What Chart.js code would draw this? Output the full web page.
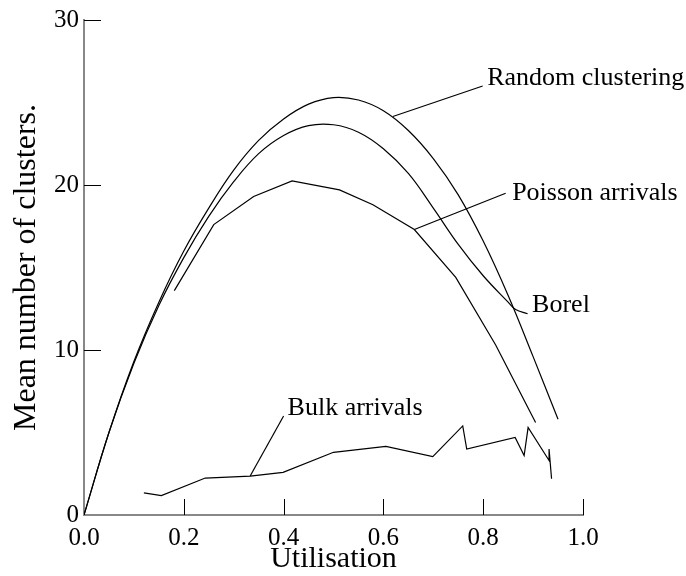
<!DOCTYPE html>
<html>
<head>
<meta charset="utf-8">
<title>Mean number of clusters</title>
<script src="https://cdn.jsdelivr.net/npm/chart.js@4"></script>
<style>
  html, body { margin: 0; padding: 0; background: #fff; }
  canvas { display: block; }
</style>
</head>
<body>
<canvas id="chart" width="686" height="576"></canvas>
<script>
// curves: utilisation (x) against mean number of clusters (y)
const randomX = [0, 0.05, 0.1, 0.15, 0.2, 0.25, 0.3, 0.35, 0.4, 0.45, 0.5, 0.55, 0.6, 0.65, 0.7, 0.75, 0.8, 0.85, 0.9, 0.95];
const randomY = [0, 5.0, 9.3, 12.9, 16.0, 18.6, 20.9, 22.7, 24.0, 24.9, 25.3, 25.15, 24.5, 23.3, 21.6, 19.4, 16.6, 13.3, 9.6, 5.8];

const borelX = [0, 0.05, 0.1, 0.15, 0.2, 0.25, 0.3, 0.35, 0.4, 0.45, 0.5, 0.55, 0.6, 0.65, 0.7, 0.75, 0.8, 0.85, 0.865, 0.889];
const borelY = [0, 5.0, 9.2, 12.7, 15.6, 18.1, 20.2, 21.9, 23.0, 23.6, 23.65, 23.2, 22.2, 20.7, 18.6, 16.4, 14.5, 12.9, 12.45, 12.2];

const poissonX = [0.181, 0.26, 0.34, 0.417, 0.512, 0.579, 0.662, 0.745, 0.825, 0.905];
const poissonY = [13.6, 17.6, 19.3, 20.25, 19.7, 18.8, 17.3, 14.4, 10.3, 5.6];

const bulkX = [0.12, 0.155, 0.243, 0.333, 0.399, 0.5, 0.605, 0.699, 0.759, 0.767, 0.864, 0.882, 0.89, 0.932, 0.932, 0.937];
const bulkY = [1.34, 1.18, 2.24, 2.36, 2.58, 3.8, 4.16, 3.54, 5.4, 4.0, 4.7, 3.6, 5.3, 3.3, 4.0, 2.2];

// pointer lines from each curve to its name: [x0, y0, x1, y1]
const leaders = [
  [0.619, 24.15, 0.799, 26.0],
  [0.662, 17.3, 0.845, 19.5],
  [0.333, 2.36, 0.4, 6.0]
];

const curveNames = ['Random clustering', 'Poisson arrivals', 'Borel', 'Bulk arrivals'];
const nameX = [0.808, 0.858, 0.898, 0.408];
const nameY = [26.5, 19.5, 12.7, 6.46];

const xTicks = [0, 0.2, 0.4, 0.6, 0.8, 1.0];
const yTicks = [0, 10, 20, 30];

const serif = '"Liberation Serif", "Times New Roman", serif';

function pts(xs, ys) {
  return xs.map((x, i) => ({ x: x, y: ys[i] }));
}

function curve(xs, ys, smooth) {
  return {
    data: pts(xs, ys),
    borderColor: '#000',
    borderWidth: 1.2,
    pointRadius: 0,
    fill: false,
    tension: smooth ? 0.4 : 0
  };
}

const datasets = [
  curve(randomX, randomY, true),
  curve(borelX, borelY, true),
  curve(poissonX, poissonY, false),
  curve(bulkX, bulkY, false)
];
leaders.forEach(l => datasets.push(curve([l[0], l[2]], [l[1], l[3]], false)));

// short tick marks pointing into the plot
const innerTicks = {
  id: 'innerTicks',
  afterDraw(chart) {
    const { ctx, scales: { x, y } } = chart;
    ctx.save();
    ctx.strokeStyle = '#000';
    ctx.lineWidth = 1;
    ctx.beginPath();
    xTicks.slice(1).forEach(v => {
      const px = Math.round(x.getPixelForValue(v)) + 0.5;
      ctx.moveTo(px, y.bottom);
      ctx.lineTo(px, y.bottom - 16);
    });
    yTicks.slice(1).forEach(v => {
      const py = Math.round(y.getPixelForValue(v)) + 0.5;
      ctx.moveTo(x.left, py);
      ctx.lineTo(x.left + 17, py);
    });
    ctx.stroke();
    ctx.restore();
  }
};

// curve names next to the pointer lines
const curveLabels = {
  id: 'curveLabels',
  afterDraw(chart) {
    const { ctx, scales: { x, y } } = chart;
    ctx.save();
    ctx.fillStyle = '#000';
    ctx.font = '26px ' + serif;
    ctx.textAlign = 'left';
    ctx.textBaseline = 'middle';
    curveNames.forEach((name, i) => {
      ctx.fillText(name, x.getPixelForValue(nameX[i]), y.getPixelForValue(nameY[i]));
    });
    ctx.restore();
  }
};

new Chart(document.getElementById('chart'), {
  type: 'line',
  data: { datasets: datasets },
  options: {
    responsive: false,
    animation: false,
    events: [],
    layout: { padding: { left: 0, right: 103, top: 15, bottom: 0 } },
    plugins: { legend: { display: false }, tooltip: { enabled: false } },
    scales: {
      x: {
        type: 'linear',
        min: 0,
        max: 1,
        afterBuildTicks: s => { s.ticks = xTicks.map(v => ({ value: v })); },
        afterFit: s => { s.height = 61; },
        grid: { display: false, drawTicks: false },
        border: { display: true, color: '#888', width: 2 },
        ticks: {
          color: '#000',
          font: { family: serif, size: 25 },
          padding: 8,
          maxRotation: 0,
          callback: v => v.toFixed(1)
        },
        title: {
          display: true,
          text: 'Utilisation',
          color: '#000',
          font: { family: serif, size: 30, lineHeight: 1 },
          padding: { top: 0, bottom: 2 }
        }
      },
      y: {
        type: 'linear',
        min: 0,
        max: 30,
        afterBuildTicks: s => { s.ticks = yTicks.map(v => ({ value: v })); },
        afterFit: s => { s.width = 84; },
        grid: { display: false, drawTicks: false },
        border: { display: true, color: '#888', width: 2 },
        ticks: {
          color: '#000',
          font: { family: serif, size: 25 },
          padding: 5,
          callback: v => String(v)
        },
        title: {
          display: true,
          text: 'Mean number of clusters.',
          color: '#000',
          font: { family: serif, size: 32, lineHeight: 1 },
          padding: { top: 11, bottom: 0 }
        }
      }
    }
  },
  plugins: [innerTicks, curveLabels]
});
</script>
</body>
</html>
